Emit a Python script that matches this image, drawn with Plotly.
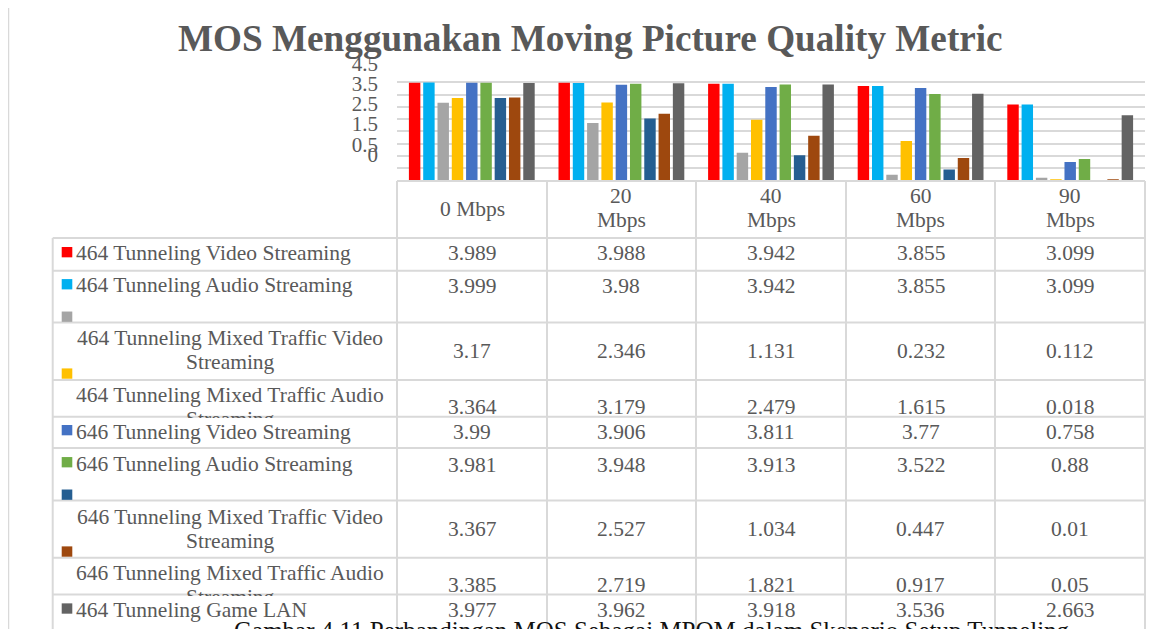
import plotly.graph_objects as go

# ---------------- data ----------------
categories = ["0 Mbps", "20 Mbps", "40 Mbps", "60 Mbps", "90 Mbps"]

series_names = [
    "464 Tunneling Video Streaming",
    "464 Tunneling Audio Streaming",
    "464 Tunneling Mixed Traffic Video Streaming",
    "464 Tunneling Mixed Traffic Audio Streaming",
    "646 Tunneling Video Streaming",
    "646 Tunneling Audio Streaming",
    "646 Tunneling Mixed Traffic Video Streaming",
    "646 Tunneling Mixed Traffic Audio Streaming",
    "464 Tunneling Game LAN",
]

v464_video = [3.989, 3.988, 3.942, 3.855, 3.099]
v464_audio = [3.999, 3.98, 3.942, 3.855, 3.099]
v464_mix_video = [3.17, 2.346, 1.131, 0.232, 0.112]
v464_mix_audio = [3.364, 3.179, 2.479, 1.615, 0.018]
v646_video = [3.99, 3.906, 3.811, 3.77, 0.758]
v646_audio = [3.981, 3.948, 3.913, 3.522, 0.88]
v646_mix_video = [3.367, 2.527, 1.034, 0.447, 0.01]
v646_mix_audio = [3.385, 2.719, 1.821, 0.917, 0.05]
v464_game = [3.977, 3.962, 3.918, 3.536, 2.663]

series_values = [v464_video, v464_audio, v464_mix_video, v464_mix_audio,
                 v646_video, v646_audio, v646_mix_video, v646_mix_audio, v464_game]

colors = ["#FF0000", "#00B0F0", "#A5A5A5", "#FFC000", "#4472C4",
          "#70AD47", "#255E91", "#9E480E", "#636363"]

y_tick_vals = [0, 0.5, 1.5, 2.5, 3.5, 4.5]
y_tick_text = ["0", "0.5", "1.5", "2.5", "3.5", "4.5"]

title_text = "MOS Menggunakan Moving Picture Quality Metric"
caption_text = "Gambar 4.11 Perbandingan MOS Sebagai MPQM dalam Skenario Setup Tunneling"

# ---------------- layout helpers ----------------
W, H = 1168, 629
# compensation for where the page places the figure in the final picture
OX, OY, SY = 8.0, 17.8, 0.969

def X(px):
    return (px - OX) / W

def Y(py):
    return 1 - ((py - OY) / SY) / H

SERIF = "Liberation Serif, Times New Roman, serif"
TXT = "#595959"
LINE = "#d9d9d9"
FS = 21.5

col_edges = [397, 547, 696, 846, 995, 1145]
col_centers = [(a + b) / 2 for a, b in zip(col_edges[:-1], col_edges[1:])]
table_left = 52.7
row_lines_y = [237.5, 270.5, 322.5, 380.5, 417.5, 449, 502, 559.5, 596.5]
marker_y = [251.7, 284, 316.7, 374, 431, 463.3, 496, 553.3, 610.7]
label_y = [252.7, 285, 338.3, 395.7, 432.7, 465, 518.3, 575, 611.7]
value_y = [252.7, 286, 351, 408, 432.5, 466, 530.5, 587, 612.5]
line_step = 24.5

fig = go.Figure()

for name, vals, col in zip(series_names, series_values, colors):
    fig.add_trace(go.Bar(x=categories, y=vals, name=name, marker=dict(color=col, line=dict(width=0))))

# invisible helper trace so the tick-label axis is drawn
fig.add_trace(go.Scatter(x=[categories[0], categories[0]], y=[y_tick_vals[0], y_tick_vals[-1]],
                         yaxis="y2", mode="markers", marker=dict(opacity=0), showlegend=False,
                         hoverinfo="skip"))

shapes = []
annotations = []

# outer frame (left edge)
shapes.append(dict(type="line", xref="paper", yref="paper", x0=X(8.5), x1=X(8.5), y0=Y(0), y1=Y(H + 20),
                   line=dict(color=LINE, width=1.5)))

# table: header top (axis line) and horizontal rules
shapes.append(dict(type="line", xref="paper", yref="paper", x0=X(col_edges[0]), x1=X(col_edges[-1]),
                   y0=Y(180), y1=Y(180), line=dict(color=LINE, width=2)))
for ry in row_lines_y:
    shapes.append(dict(type="line", xref="paper", yref="paper", x0=X(table_left), x1=X(col_edges[-1]),
                       y0=Y(ry), y1=Y(ry), line=dict(color=LINE, width=2)))
# vertical rules
for cx in col_edges:
    shapes.append(dict(type="line", xref="paper", yref="paper", x0=X(cx), x1=X(cx),
                       y0=Y(180), y1=Y(H + 20), line=dict(color=LINE, width=2)))
shapes.append(dict(type="line", xref="paper", yref="paper", x0=X(table_left), x1=X(table_left),
                   y0=Y(row_lines_y[0]), y1=Y(H + 20), line=dict(color=LINE, width=2)))

def txt(x, y, s, xanchor="center", size=FS, color=TXT, bold=False):
    annotations.append(dict(xref="paper", yref="paper", x=X(x), y=Y(y), text=("<b>%s</b>" % s) if bold else s,
                            showarrow=False, xanchor=xanchor, yanchor="middle",
                            font=dict(family=SERIF, size=size, color=color)))

# title
txt(590.5, 36, title_text, size=37.2, bold=True)

# header row (category labels)
for c, cx in zip(categories, col_centers):
    parts = [c] if len(c) <= 6 else c.split(" ")
    if len(parts) == 1:
        txt(cx, 208, parts[0])
    else:
        txt(cx, 195, parts[0])
        txt(cx, 219, parts[1])

# body rows
for i, (name, vals, col) in enumerate(zip(series_names, series_values, colors)):
    my = marker_y[i]
    shapes.append(dict(type="rect", xref="paper", yref="paper", x0=X(61.7), x1=X(72.3),
                       y0=Y(my + 5.2), y1=Y(my - 5.2), fillcolor=col, line=dict(width=0)))
    if len(name) > 30:
        first, last = name.rsplit(" ", 1)
        txt(230, label_y[i], first)
        second_y = label_y[i] + line_step
        txt(230, second_y, last)
        if second_y + 10 > row_lines_y[i + 1]:
            # wrapped text clipped by the next row
            annotations.append(dict(xref="paper", yref="paper", x=X(230), y=Y(row_lines_y[i + 1] + 1.3),
                                    text=" ", showarrow=False, xanchor="center", yanchor="top",
                                    width=160, height=26, bgcolor="white", borderpad=0, borderwidth=0,
                                    font=dict(family=SERIF, size=FS)))
    else:
        txt(74, label_y[i], name, xanchor="left")
    for v, cx in zip(vals, col_centers):
        txt(cx, value_y[i], str(v))

# caption (mostly cut off at the bottom)
annotations.append(dict(xref="paper", yref="paper", x=X(232), y=Y(633), text=caption_text,
                        showarrow=False, xanchor="left", yanchor="middle",
                        font=dict(family=SERIF, size=25, color="#111111")))

fig.update_layout(
    width=W, height=H,
    margin=dict(l=0, r=0, t=0, b=0),
    paper_bgcolor="white", plot_bgcolor="rgba(0,0,0,0)",
    showlegend=False,
    barmode="group", bargap=0.14, bargroupgap=0.2,
    xaxis=dict(domain=[X(397), X(1145)], showticklabels=False, showgrid=False, zeroline=False,
               showline=False, ticks="", fixedrange=True),
    yaxis=dict(domain=[Y(179.5), Y(68.3)], range=[0, 4.5], dtick=0.5, showgrid=True,
               gridcolor=LINE, gridwidth=1.5, showticklabels=False, zeroline=False, ticks=""),
    yaxis2=dict(domain=[Y(153), Y(62)], range=[0, 4.5], anchor="free", position=X(378),
                tickvals=y_tick_vals, ticktext=y_tick_text, showgrid=False, zeroline=False,
                showline=False, ticks="", tickfont=dict(family=SERIF, size=21, color=TXT)),
    shapes=shapes,
    annotations=annotations,
)

fig.write_html("out.html")
